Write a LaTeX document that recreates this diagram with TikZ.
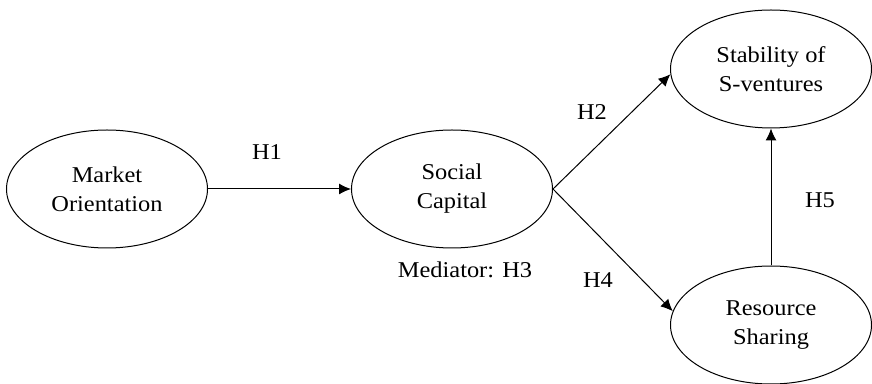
\documentclass[tikz,border=0pt]{standalone}
\usepackage{fontspec}
\setmainfont{Liberation Serif}[FakeStretch=1.08]
\usepackage{tikz}
\usetikzlibrary{shapes, arrows.meta, positioning}

\begin{document}
\begin{tikzpicture}[x=0.5pt, y=-0.5pt, node distance=2cm, auto, >={Latex[length=6pt,width=5.5pt]}]
    % Define block styles
    \tikzstyle{construct} = [ellipse, draw, line width=0.5pt, inner sep=0pt,
        minimum width=100.5pt, minimum height=59pt, align=center,
        font=\fontsize{11.3}{14.5}\selectfont]
    \tikzstyle{hyp} = [font=\fontsize{11.3}{14.5}\selectfont]
    \tikzstyle{line} = [draw, line width=0.5pt, ->]

    \useasboundingbox (0,0) rectangle (872,384);

    % Define nodes
    \node [construct] (market) at (107,189) {Market\\Orientation};
    \node [construct, right of=market, node distance=172.5pt] (social) {Social\\Capital};
    \node [construct] (stability) at (771,69) {Stability of\\S-ventures};
    \node [construct, below of=stability, node distance=128pt] (resource) {Resource\\Sharing};

    % Labels
    \node [hyp] (h1) at (267,152) {H1};
    \node [hyp] (h2) at (592,112) {H2};
    \node [hyp] (h4) at (598,280) {H4};
    \node [hyp] (h5) at (820,200) {H5};
    \node [hyp] (med) at (465,270) {Mediator: H3};

    % Draw edges
    \path [line] (market) -- (social);
    \path [line] (social.east) -- (stability.183);
    \path [line] (social.east) -- (resource.172);
    \path [line] (resource) -- (stability);
\end{tikzpicture}
\end{document}
